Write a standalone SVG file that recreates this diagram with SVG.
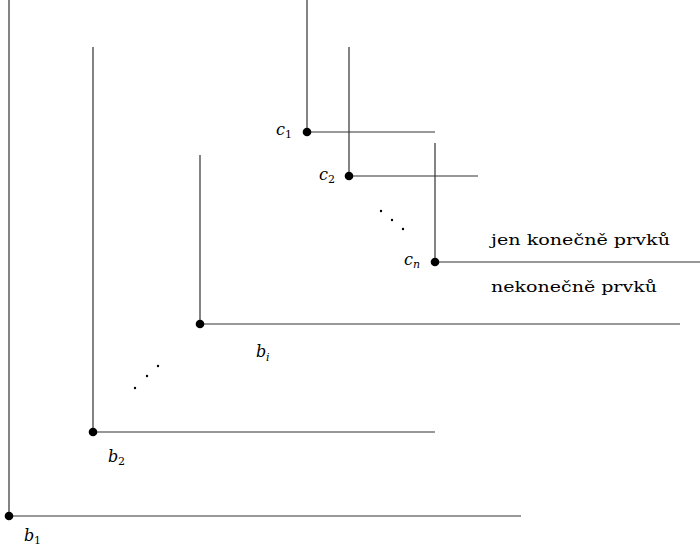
<svg xmlns="http://www.w3.org/2000/svg" width="700" height="549" viewBox="0 0 700 549">
<style>
.ln{stroke:#333;stroke-width:1.2;fill:none}
.dot{fill:#000}
.sd{fill:#000}
text{font-family:"DejaVu Serif","Liberation Serif",serif;fill:#000}
.m{font-style:italic;font-size:16px}
.s{font-size:11px}
.t{font-size:15px}
</style>
<g id="connectors">
<path class="ln" d="M9 0V516H521"/>
<path class="ln" d="M93 47V432H435"/>
<path class="ln" d="M200 155V324H680"/>
<path class="ln" d="M307 0V132H435"/>
<path class="ln" d="M349 47V176H478"/>
<path class="ln" d="M435 143V262H700"/>
</g>
<g id="b1"><circle class="dot" cx="9" cy="516" r="4.3"/><text class="m" x="24" y="541">b</text><text class="s" x="34" y="544">1</text></g>
<g id="b2"><circle class="dot" cx="93" cy="432" r="4.3"/><text class="m" x="108" y="462">b</text><text class="s" x="118" y="465">2</text></g>
<g id="bi"><circle class="dot" cx="200" cy="324" r="4.3"/><text class="m" x="256" y="357">b</text><text class="s" x="266" y="361" font-style="italic">i</text></g>
<g id="c1"><circle class="dot" cx="307" cy="132" r="4.3"/><text class="m" x="276" y="135">c</text><text class="s" x="285" y="138">1</text></g>
<g id="c2"><circle class="dot" cx="349" cy="176" r="4.3"/><text class="m" x="319" y="180">c</text><text class="s" x="328" y="183">2</text></g>
<g id="cn"><circle class="dot" cx="435" cy="262" r="4.3"/><text class="m" x="404" y="265">c</text><text class="s" x="413" y="268" font-style="italic">n</text></g>
<g id="dots1"><circle class="sd" cx="381" cy="211" r="1.2"/><circle class="sd" cx="392" cy="220" r="1.2"/><circle class="sd" cx="403" cy="229" r="1.2"/></g>
<g id="dots2"><circle class="sd" cx="135" cy="388" r="1.2"/><circle class="sd" cx="147" cy="376" r="1.2"/><circle class="sd" cx="158" cy="366" r="1.2"/></g>
<g id="labels">
<text class="t" x="491" y="245" textLength="179" lengthAdjust="spacingAndGlyphs">jen konečně prvků</text>
<text class="t" x="491" y="292" textLength="166" lengthAdjust="spacingAndGlyphs">nekonečně prvků</text>
</g>
</svg>
